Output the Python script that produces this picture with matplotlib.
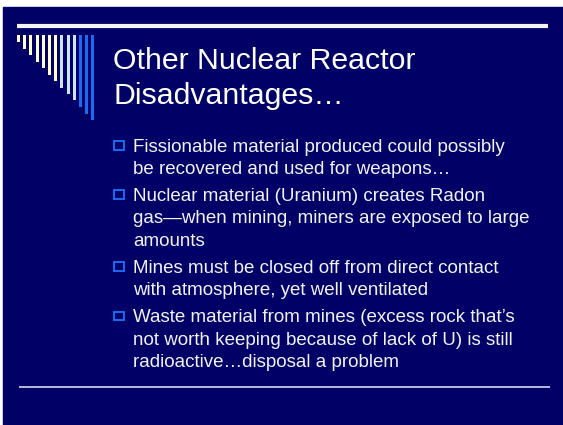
import numpy as np
import matplotlib
matplotlib.use("Agg")
import matplotlib.pyplot as plt
from matplotlib.patches import Rectangle

# slide text
title_lines = ["Other Nuclear Reactor", "Disadvantages\u2026"]
bullets = [
    ["Fissionable material produced could possibly",
     "be recovered and used for weapons\u2026"],
    ["Nuclear material (Uranium) creates Radon",
     "gas\u2014when mining, miners are exposed to large",
     "amounts"],
    ["Mines must be closed off from direct contact",
     "with atmosphere, yet well ventilated"],
    ["Waste material from mines (excess rock that\u2019s",
     "not worth keeping because of lack of U) is still",
     "radioactive\u2026disposal a problem"],
]

# decorative comb in the top-left corner (length of each stripe, px)
stripe_len = [7, 14, 20, 27, 33, 40, 46, 53, 59, 65, 72, 79, 85]
stripe_col = ["#FFFFCC"] * 7 + ["#CCE5FF"] * 3 + ["#1A6CF0"] * 3

W, H = 563, 425
fig = plt.figure(figsize=(W / 100, H / 100), dpi=100, facecolor="white")
ax = fig.add_axes([0, 0, 1, 1])
ax.set_xlim(0, W)
ax.set_ylim(H, 0)
ax.axis("off")

# background panel
ax.add_patch(Rectangle((3, 7), W - 3, H - 7, color="#000066", zorder=0))

# top rule and bottom rule
ax.plot([17, 548], [25.5, 25.5], color="#F4F4F8", lw=3.0, solid_capstyle="butt", zorder=2)
ax.plot([19, 550], [386.8, 386.8], color="#D8D8F0", lw=1.2, solid_capstyle="butt", zorder=2)

# stripes
xs = 18.5 + np.arange(len(stripe_len)) * 6.2
ax.bar(xs, stripe_len, bottom=35, width=3, color=stripe_col, zorder=2)

font = "Liberation Sans"

# title
for i, line in enumerate(title_lines):
    ax.text(113, 69 + i * 35, line, color="white", fontsize=21.8, family=font,
            va="baseline", ha="left")

# bullets
L, P = 22.3, 27.1
y = 151.7
for b in bullets:
    ax.add_patch(Rectangle((113.8, y - 10.7), 10.2, 8.7, fill=False,
                           edgecolor="#1A6CF0", lw=1.4, zorder=3))
    for j, line in enumerate(b):
        ax.text(133, y, line, color="#F2F2F8", fontsize=13.5, family=font,
                va="baseline", ha="left")
        if j < len(b) - 1:
            y += L
    y += P

fig.savefig("out.png", dpi=100, facecolor="white")
